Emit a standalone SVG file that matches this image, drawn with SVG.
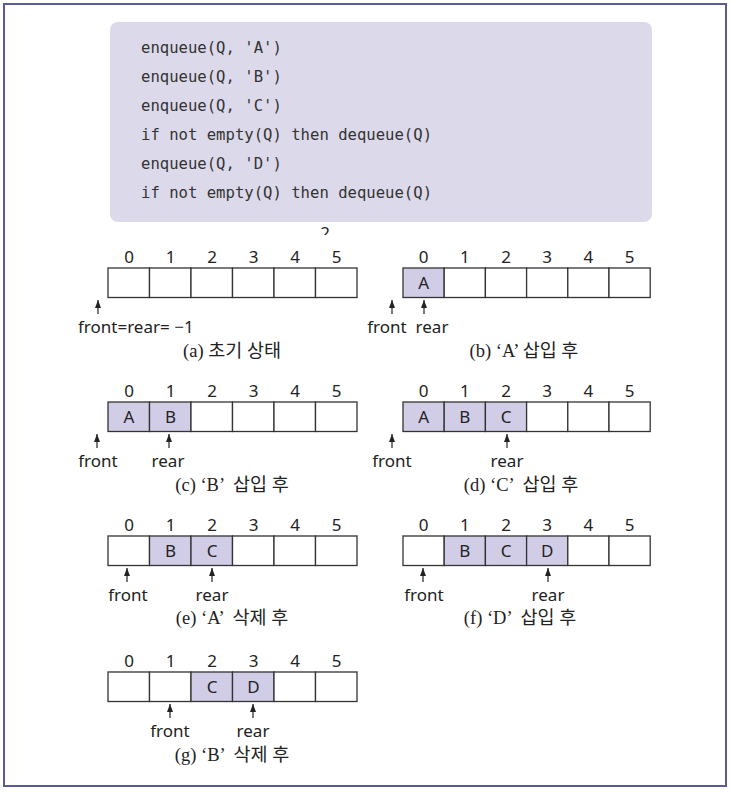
<svg xmlns="http://www.w3.org/2000/svg" width="731" height="792" viewBox="0 0 731 792">
<defs>
<style>
.frame{fill:#fff;stroke:#5b5a96;stroke-width:2}
.code{fill:#dcdaea}
.ct{font-family:"DejaVu Sans Mono","Liberation Mono",monospace;font-size:15.6px;fill:#333}
.c{fill:#fff;stroke:#333;stroke-width:1.3}
.f{fill:#d1cde6;stroke:#333;stroke-width:1.3}
.idx{font-family:"Noto Sans","Liberation Sans",sans-serif;font-size:17px;fill:#222;text-anchor:middle}
.lbl{font-family:"Noto Sans","Liberation Sans",sans-serif;font-size:17px;fill:#222;text-anchor:middle}
.cap{font-family:"Liberation Serif","Noto Sans CJK KR",serif;font-size:18.5px;fill:#222;text-anchor:middle}
.ar{stroke:#222;stroke-width:1.2;fill:none;marker-end:url(#ah)}
</style>
<marker id="ah" viewBox="0 0 8 6" refX="8" refY="3" markerWidth="8" markerHeight="6" markerUnits="userSpaceOnUse" orient="auto">
<path d="M0,0 L8,3 L0,6 Z" fill="#222"/>
</marker>
<clipPath id="clip2"><rect x="300" y="224" width="60" height="11"/></clipPath>
</defs>
<rect class="frame" x="4" y="4" width="722" height="782"/>
<g id="code">
<rect class="code" x="110" y="22" width="542" height="200" rx="8"/>
<text class="ct" x="141" y="53">enqueue(Q, 'A')</text>
<text class="ct" x="141" y="82">enqueue(Q, 'B')</text>
<text class="ct" x="141" y="111">enqueue(Q, 'C')</text>
<text class="ct" x="141" y="140">if not empty(Q) then dequeue(Q)</text>
<text class="ct" x="141" y="169">enqueue(Q, 'D')</text>
<text class="ct" x="141" y="198">if not empty(Q) then dequeue(Q)</text>
</g>
<text class="idx" x="325" y="239" clip-path="url(#clip2)">2</text>

<!-- (a) -->
<g id="qa">
<text class="idx" x="129" y="263">0</text><text class="idx" x="170.5" y="263">1</text><text class="idx" x="212" y="263">2</text><text class="idx" x="253.5" y="263">3</text><text class="idx" x="295" y="263">4</text><text class="idx" x="336.5" y="263">5</text>
<rect class="c" x="108" y="268" width="41.5" height="29.5"/><rect class="c" x="149.5" y="268" width="41.5" height="29.5"/><rect class="c" x="191" y="268" width="41.5" height="29.5"/><rect class="c" x="232.5" y="268" width="41.5" height="29.5"/><rect class="c" x="274" y="268" width="41.5" height="29.5"/><rect class="c" x="315.5" y="268" width="41.5" height="29.5"/>
<text class="lbl" x="78" y="333" style="text-anchor:start">front=rear= −1</text>
<text class="cap" x="232" y="357">(a) 초기 상태</text>
</g>

<!-- (b) -->
<g id="qb">
<text class="idx" x="423.6" y="263">0</text><text class="idx" x="464.8" y="263">1</text><text class="idx" x="506" y="263">2</text><text class="idx" x="547.2" y="263">3</text><text class="idx" x="588.4" y="263">4</text><text class="idx" x="629.6" y="263">5</text>
<rect class="f" x="403" y="268" width="41.2" height="29.5"/><rect class="c" x="444.2" y="268" width="41.2" height="29.5"/><rect class="c" x="485.4" y="268" width="41.2" height="29.5"/><rect class="c" x="526.6" y="268" width="41.2" height="29.5"/><rect class="c" x="567.8" y="268" width="41.2" height="29.5"/><rect class="c" x="609" y="268" width="41.2" height="29.5"/>
<text class="idx" x="423.6" y="289">A</text>
<text class="lbl" x="387" y="333">front</text>
<text class="lbl" x="432" y="333">rear</text>
<text class="cap" x="524" y="357" xml:space="preserve">(b) ‘A’ 삽입 후</text>
</g>

<!-- (c) -->
<g id="qc">
<text class="idx" x="129" y="397">0</text><text class="idx" x="170.5" y="397">1</text><text class="idx" x="212" y="397">2</text><text class="idx" x="253.5" y="397">3</text><text class="idx" x="295" y="397">4</text><text class="idx" x="336.5" y="397">5</text>
<rect class="f" x="108" y="402" width="41.5" height="29.5"/><rect class="f" x="149.5" y="402" width="41.5" height="29.5"/><rect class="c" x="191" y="402" width="41.5" height="29.5"/><rect class="c" x="232.5" y="402" width="41.5" height="29.5"/><rect class="c" x="274" y="402" width="41.5" height="29.5"/><rect class="c" x="315.5" y="402" width="41.5" height="29.5"/>
<text class="idx" x="129" y="423">A</text><text class="idx" x="170.5" y="423">B</text>
<text class="lbl" x="98" y="467">front</text>
<text class="lbl" x="168" y="467">rear</text>
<text class="cap" x="232" y="491" xml:space="preserve">(c) ‘B’  삽입 후</text>
</g>

<!-- (d) -->
<g id="qd">
<text class="idx" x="423.6" y="397">0</text><text class="idx" x="464.8" y="397">1</text><text class="idx" x="506" y="397">2</text><text class="idx" x="547.2" y="397">3</text><text class="idx" x="588.4" y="397">4</text><text class="idx" x="629.6" y="397">5</text>
<rect class="f" x="403" y="402" width="41.2" height="29.5"/><rect class="f" x="444.2" y="402" width="41.2" height="29.5"/><rect class="f" x="485.4" y="402" width="41.2" height="29.5"/><rect class="c" x="526.6" y="402" width="41.2" height="29.5"/><rect class="c" x="567.8" y="402" width="41.2" height="29.5"/><rect class="c" x="609" y="402" width="41.2" height="29.5"/>
<text class="idx" x="423.6" y="423">A</text><text class="idx" x="464.8" y="423">B</text><text class="idx" x="506" y="423">C</text>
<text class="lbl" x="392" y="467">front</text>
<text class="lbl" x="507" y="467">rear</text>
<text class="cap" x="521" y="491" xml:space="preserve">(d) ‘C’  삽입 후</text>
</g>

<!-- (e) -->
<g id="qe">
<text class="idx" x="129" y="531">0</text><text class="idx" x="170.5" y="531">1</text><text class="idx" x="212" y="531">2</text><text class="idx" x="253.5" y="531">3</text><text class="idx" x="295" y="531">4</text><text class="idx" x="336.5" y="531">5</text>
<rect class="c" x="108" y="536" width="41.5" height="29.5"/><rect class="f" x="149.5" y="536" width="41.5" height="29.5"/><rect class="f" x="191" y="536" width="41.5" height="29.5"/><rect class="c" x="232.5" y="536" width="41.5" height="29.5"/><rect class="c" x="274" y="536" width="41.5" height="29.5"/><rect class="c" x="315.5" y="536" width="41.5" height="29.5"/>
<text class="idx" x="170.5" y="557">B</text><text class="idx" x="212" y="557">C</text>
<text class="lbl" x="128" y="601">front</text>
<text class="lbl" x="212" y="601">rear</text>
<text class="cap" x="232" y="624" xml:space="preserve">(e) ‘A’  삭제 후</text>
</g>

<!-- (f) -->
<g id="qf">
<text class="idx" x="423.6" y="531">0</text><text class="idx" x="464.8" y="531">1</text><text class="idx" x="506" y="531">2</text><text class="idx" x="547.2" y="531">3</text><text class="idx" x="588.4" y="531">4</text><text class="idx" x="629.6" y="531">5</text>
<rect class="c" x="403" y="536" width="41.2" height="29.5"/><rect class="f" x="444.2" y="536" width="41.2" height="29.5"/><rect class="f" x="485.4" y="536" width="41.2" height="29.5"/><rect class="f" x="526.6" y="536" width="41.2" height="29.5"/><rect class="c" x="567.8" y="536" width="41.2" height="29.5"/><rect class="c" x="609" y="536" width="41.2" height="29.5"/>
<text class="idx" x="464.8" y="557">B</text><text class="idx" x="506" y="557">C</text><text class="idx" x="547.2" y="557">D</text>
<text class="lbl" x="424" y="601">front</text>
<text class="lbl" x="548" y="601">rear</text>
<text class="cap" x="520" y="624" xml:space="preserve">(f) ‘D’  삽입 후</text>
</g>

<!-- (g) -->
<g id="qg">
<text class="idx" x="129" y="667">0</text><text class="idx" x="170.5" y="667">1</text><text class="idx" x="212" y="667">2</text><text class="idx" x="253.5" y="667">3</text><text class="idx" x="295" y="667">4</text><text class="idx" x="336.5" y="667">5</text>
<rect class="c" x="108" y="672" width="41.5" height="29.5"/><rect class="c" x="149.5" y="672" width="41.5" height="29.5"/><rect class="f" x="191" y="672" width="41.5" height="29.5"/><rect class="f" x="232.5" y="672" width="41.5" height="29.5"/><rect class="c" x="274" y="672" width="41.5" height="29.5"/><rect class="c" x="315.5" y="672" width="41.5" height="29.5"/>
<text class="idx" x="212" y="693">C</text><text class="idx" x="253.5" y="693">D</text>
<text class="lbl" x="170" y="737">front</text>
<text class="lbl" x="253" y="737">rear</text>
<text class="cap" x="232" y="761" xml:space="preserve">(g) ‘B’  삭제 후</text>
</g>

<g id="connectors">
<path class="ar" d="M98,314 V300"/>
<path class="ar" d="M392,314 V300"/><path class="ar" d="M424,314 V300"/>
<path class="ar" d="M97,448 V434"/><path class="ar" d="M169,448 V434"/>
<path class="ar" d="M392,448 V434"/><path class="ar" d="M507,448 V434"/>
<path class="ar" d="M127,582 V568"/><path class="ar" d="M212,582 V568"/>
<path class="ar" d="M423,582 V568"/><path class="ar" d="M548,582 V568"/>
<path class="ar" d="M170,718 V704"/><path class="ar" d="M253,718 V704"/>
</g>
</svg>
